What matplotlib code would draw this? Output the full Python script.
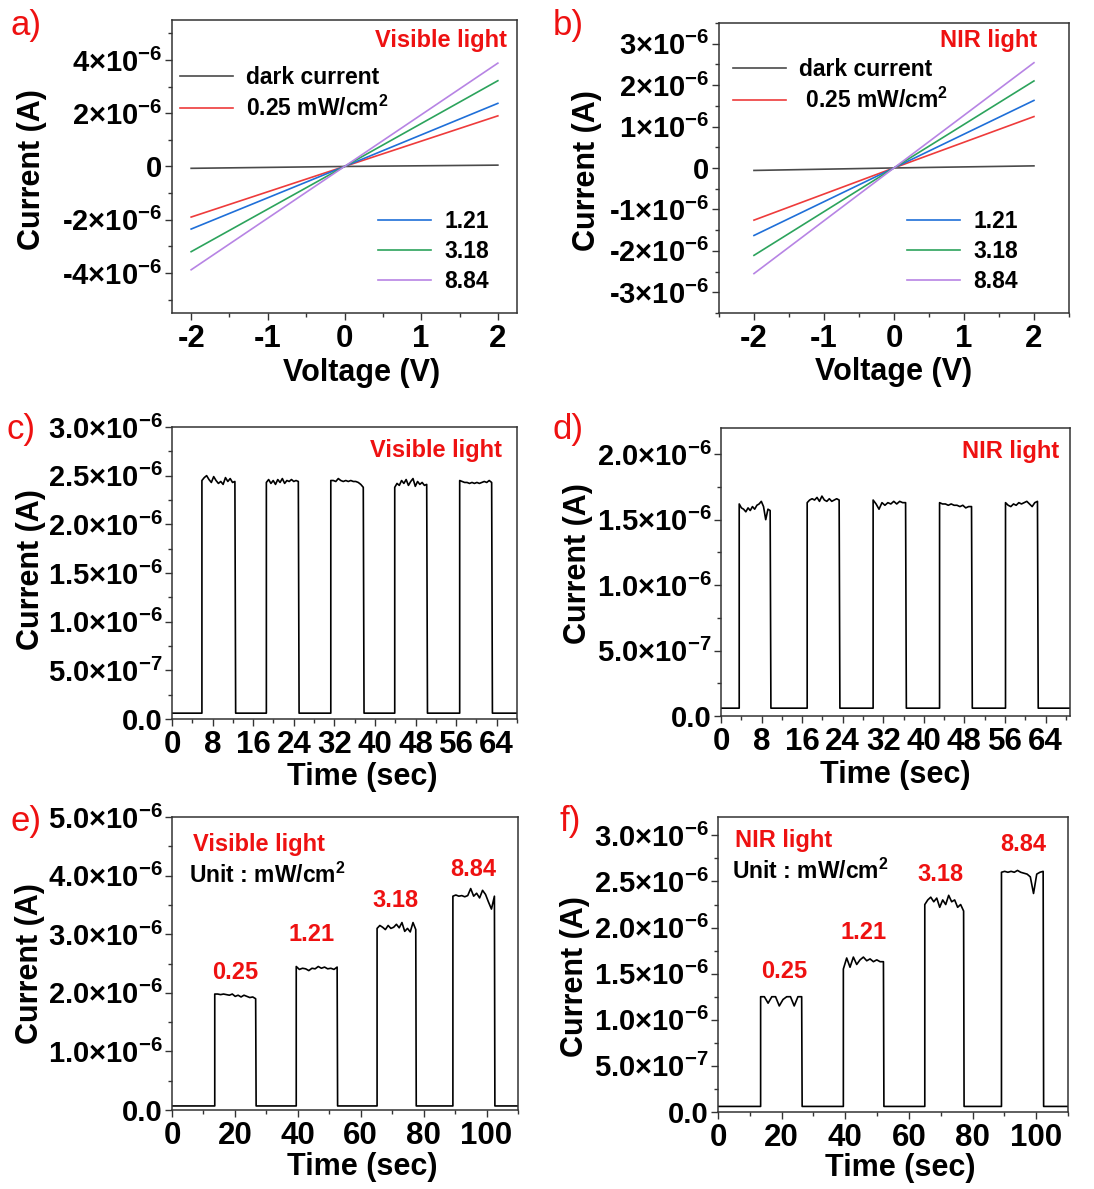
import numpy as np
import matplotlib
matplotlib.use('Agg')
import matplotlib.pyplot as plt
from matplotlib.ticker import MultipleLocator

plt.rcParams['font.family'] = ['Liberation Sans', 'DejaVu Sans']
plt.rcParams['font.weight'] = 'bold'
plt.rcParams['mathtext.fontset'] = 'custom'
plt.rcParams['mathtext.rm'] = 'Liberation Sans:bold'
plt.rcParams['mathtext.it'] = 'Liberation Sans:bold'
plt.rcParams['mathtext.bf'] = 'Liberation Sans:bold'
plt.rcParams['mathtext.default'] = 'rm'

# ---- I-V data (A) ----
voltage = [-2, 0, 2]
iv_labels = ['dark current', '0.25 mW/cm$^2$', '1.21', '3.18', '8.84']
iv_colors = ['#4a4a4a', '#ee3b3b', '#1f6fd8', '#2ca35c', '#b784e4']
iv_vis = [[-0.07e-6, 0, 0.05e-6],
          [-1.90e-6, 0, 1.90e-6],
          [-2.35e-6, 0, 2.37e-6],
          [-3.20e-6, 0, 3.22e-6],
          [-3.88e-6, 0, 3.88e-6]]
iv_nir = [[-0.06e-6, 0, 0.05e-6],
          [-1.26e-6, 0, 1.24e-6],
          [-1.63e-6, 0, 1.63e-6],
          [-2.11e-6, 0, 2.10e-6],
          [-2.55e-6, 0, 2.54e-6]]

# ---- on/off data (units of 1e-6 A) ----
c_on = [5.9, 18.6, 31.3, 43.9, 56.7]
c_off = [12.4, 24.9, 37.7, 50.2, 63.0]
c_tops = [[2.45, 2.48, 2.50, 2.46, 2.43, 2.49, 2.45, 2.42, 2.44, 2.41, 2.48, 2.44, 2.47, 2.43, 2.44],
          [2.43, 2.46, 2.42, 2.45, 2.41, 2.46, 2.43, 2.47, 2.42, 2.45, 2.44, 2.46, 2.44, 2.45, 2.44],
          [2.45, 2.45, 2.44, 2.47, 2.45, 2.44, 2.45, 2.44, 2.45, 2.44, 2.44, 2.43, 2.41, 2.38],
          [2.38, 2.42, 2.40, 2.45, 2.42, 2.46, 2.40, 2.44, 2.47, 2.39, 2.44, 2.41, 2.43, 2.40, 2.41],
          [2.45, 2.44, 2.43, 2.43, 2.42, 2.43, 2.42, 2.43, 2.42, 2.43, 2.44, 2.43, 2.45, 2.43]]
c_base = 0.06

d_on = [3.6, 17.0, 30.0, 43.1, 56.1]
d_off = [9.7, 23.3, 36.4, 49.4, 62.4]
d_tops = [[1.62, 1.59, 1.58, 1.56, 1.59, 1.57, 1.60, 1.58, 1.61, 1.62, 1.64, 1.60, 1.50, 1.58, 1.57],
          [1.63, 1.65, 1.66, 1.65, 1.67, 1.64, 1.68, 1.65, 1.64, 1.66, 1.64, 1.65, 1.66, 1.65],
          [1.65, 1.62, 1.58, 1.63, 1.61, 1.63, 1.62, 1.64, 1.62, 1.64, 1.63, 1.63],
          [1.63, 1.62, 1.62, 1.61, 1.62, 1.61, 1.61, 1.60, 1.61, 1.59, 1.60, 1.60],
          [1.63, 1.61, 1.60, 1.62, 1.61, 1.63, 1.62, 1.63, 1.64, 1.62, 1.60, 1.63, 1.64]]
d_base = 0.06

e_on = [13.6, 39.5, 65.2, 89.3]
e_off = [26.6, 52.5, 77.5, 102.5]
e_tops = [[1.98, 1.98, 1.97, 1.98, 1.97, 1.96, 1.98, 1.94, 1.96, 1.93, 1.96, 1.94, 1.92, 1.93, 1.90],
          [2.45, 2.40, 2.42, 2.41, 2.38, 2.42, 2.41, 2.45, 2.42, 2.44, 2.41, 2.42, 2.40, 2.44],
          [3.10, 3.15, 3.12, 3.08, 3.15, 3.10, 3.12, 3.17, 3.11, 3.20, 3.05, 3.10, 3.04, 3.20, 3.08],
          [3.65, 3.67, 3.65, 3.66, 3.64, 3.66, 3.78, 3.65, 3.70, 3.62, 3.75, 3.68, 3.55, 3.43, 3.65]]
e_base = 0.07

f_on = [13.4, 39.4, 65.0, 89.1]
f_off = [26.3, 52.0, 77.2, 102.2]
f_tops = [[1.25, 1.25, 1.18, 1.25, 1.25, 1.15, 1.22, 1.25, 1.25, 1.15, 1.25, 1.25],
          [1.55, 1.67, 1.57, 1.68, 1.60, 1.65, 1.68, 1.64, 1.66, 1.63, 1.65, 1.63, 1.63],
          [2.25, 2.30, 2.33, 2.28, 2.32, 2.22, 2.30, 2.25, 2.35, 2.28, 2.30, 2.22, 2.25, 2.18],
          [2.60, 2.61, 2.60, 2.61, 2.60, 2.62, 2.60, 2.59, 2.58, 2.55, 2.37, 2.58, 2.60, 2.61]]
f_base = 0.06

power_labels = ['0.25', '1.21', '3.18', '8.84']
e_label_pos = [(20, 2.35e-6), (44.3, 2.99e-6), (70.9, 3.58e-6), (95.9, 4.10e-6)]
f_label_pos = [(20.9, 1.52e-6), (45.9, 1.95e-6), (70, 2.58e-6), (96, 2.90e-6)]

# tick labels
a_yticks = [-4e-6, -2e-6, 0, 2e-6, 4e-6]
a_ylabels = ['-4×10$^{-6}$', '-2×10$^{-6}$', '0', '2×10$^{-6}$', '4×10$^{-6}$']
b_yticks = [-3e-6, -2e-6, -1e-6, 0, 1e-6, 2e-6, 3e-6]
b_ylabels = ['-3×10$^{-6}$', '-2×10$^{-6}$', '-1×10$^{-6}$', '0',
             '1×10$^{-6}$', '2×10$^{-6}$', '3×10$^{-6}$']
c_yticks = [0, 0.5e-6, 1.0e-6, 1.5e-6, 2.0e-6, 2.5e-6, 3.0e-6]
c_ylabels = ['0.0', '5.0×10$^{-7}$', '1.0×10$^{-6}$', '1.5×10$^{-6}$',
             '2.0×10$^{-6}$', '2.5×10$^{-6}$', '3.0×10$^{-6}$']
d_yticks = c_yticks[:5]
d_ylabels = c_ylabels[:5]
e_yticks = [0, 1e-6, 2e-6, 3e-6, 4e-6, 5e-6]
e_ylabels = ['0.0', '1.0×10$^{-6}$', '2.0×10$^{-6}$', '3.0×10$^{-6}$',
             '4.0×10$^{-6}$', '5.0×10$^{-6}$']
f_yticks = c_yticks
f_ylabels = c_ylabels


def pulse_trace(on, off, tops, base, t_end):
    t = [0]
    y = [base]
    for t_on, t_off, top in zip(on, off, tops):
        t += [t_on]
        y += [base]
        t += list(np.linspace(t_on, t_off, len(top)))
        y += top
        t += [t_off + 0.15]
        y += [base]
    t += [t_end]
    y += [base]
    return np.array(t), np.array(y) * 1e-6


def style_axes(ax, xfs=22.5, yfs=21):
    for s in ax.spines.values():
        s.set_color('#333333')
        s.set_linewidth(1.1)
    ax.tick_params(which='both', direction='out', top=False, right=False,
                   width=1, colors='#333333', labelcolor='black')
    ax.tick_params(which='major', length=5)
    ax.tick_params(which='minor', length=3)
    ax.tick_params(axis='x', labelsize=xfs, pad=3)
    ax.tick_params(axis='y', labelsize=yfs, pad=2)


def set_labels(ax, xl, yl, xpos, ypos):
    ax.set_xlabel(xl, fontsize=22, fontweight='bold')
    ax.set_ylabel(yl, fontsize=22, fontweight='bold')
    ax.xaxis.set_label_coords(*xpos)
    ax.yaxis.set_label_coords(*ypos)
    ax.xaxis.label.set_verticalalignment('center')
    ax.yaxis.label.set_verticalalignment('center')


fig = plt.figure(figsize=(10.94, 11.89), dpi=100)

ax_a = fig.add_axes([0.1572, 0.7368, 0.3154, 0.2464])
ax_b = fig.add_axes([0.6572, 0.7368, 0.3199, 0.2439])
ax_c = fig.add_axes([0.1572, 0.3953, 0.3154, 0.2456])
ax_d = fig.add_axes([0.6590, 0.3978, 0.3190, 0.2422])
ax_e = fig.add_axes([0.1572, 0.0664, 0.3163, 0.2464])
ax_f = fig.add_axes([0.6563, 0.0648, 0.3199, 0.2481])

# ---- I-V panels ----
for ax, data, title, xlim, ylim, yt, yl, leg1, leg2, tpos in [
        (ax_a, iv_vis, 'Visible light', 2.25, 5.5e-6, a_yticks, a_ylabels,
         (0.023, 0.843), (0.597, 0.352), (0.78, 0.93)),
        (ax_b, iv_nir, 'NIR light', 2.5, 3.5e-6, b_yticks, b_ylabels,
         (0.04, 0.879), (0.537, 0.355), (0.77, 0.94))]:
    lines = []
    for i, (vals, col) in enumerate(zip(data, iv_colors)):
        lab = iv_labels[i]
        if ax is ax_b and i == 1:
            lab = ' ' + lab
        ln, = ax.plot(voltage, vals, color=col, lw=1.2, label=lab)
        lines.append(ln)
    ax.set_xlim(-xlim, xlim)
    ax.set_ylim(-ylim, ylim)
    ax.set_xticks([-2, -1, 0, 1, 2])
    ax.set_xticklabels(['-2', '-1', '0', '1', '2'])
    ax.set_yticks(yt)
    ax.set_yticklabels(yl)
    ax.xaxis.set_minor_locator(MultipleLocator(0.5))
    ax.yaxis.set_minor_locator(MultipleLocator(1e-6 if ax is ax_a else 0.5e-6))
    style_axes(ax)
    l1 = ax.legend(lines[:2], [l.get_label() for l in lines[:2]], loc='upper left',
                   bbox_to_anchor=leg1, frameon=False, fontsize=16.5, borderpad=0,
                   borderaxespad=0, handlelength=2.3, handletextpad=0.6, labelspacing=0.3)
    ax.add_artist(l1)
    ax.legend(lines[2:], [l.get_label() for l in lines[2:]], loc='upper left',
              bbox_to_anchor=leg2, frameon=False, fontsize=16.5, borderpad=0,
              borderaxespad=0, handlelength=2.3, handletextpad=0.6, labelspacing=0.3)
    ax.text(tpos[0], tpos[1], title, color='#ee1111', fontsize=17, fontweight='bold',
            ha='center', va='center', transform=ax.transAxes)

set_labels(ax_a, 'Voltage (V)', 'Current (A)', (0.55, -0.205), (-0.406, 0.49))
set_labels(ax_b, 'Voltage (V)', 'Current (A)', (0.50, -0.205), (-0.377, 0.49))

# ---- repeated on/off panels ----
for ax, on, off, tops, base, xmax, ymax, yt, yl, title, tpos in [
        (ax_c, c_on, c_off, c_tops, c_base, 68, 3.0e-6, c_yticks, c_ylabels,
         'Visible light', (0.765, 0.92)),
        (ax_d, d_on, d_off, d_tops, d_base, 68.8, 2.2e-6, d_yticks, d_ylabels,
         'NIR light', (0.83, 0.917))]:
    t, y = pulse_trace(on, off, tops, base, xmax)
    ax.plot(t, y, color='black', lw=1.2)
    ax.set_xlim(0, xmax)
    ax.set_ylim(0, ymax)
    ax.set_xticks(np.arange(0, 65, 8))
    ax.xaxis.set_minor_locator(MultipleLocator(4))
    ax.set_yticks(yt)
    ax.set_yticklabels(yl)
    ax.yaxis.set_minor_locator(MultipleLocator(0.25e-6))
    style_axes(ax)
    ax.text(tpos[0], tpos[1], title, color='#ee1111', fontsize=17, fontweight='bold',
            ha='center', va='center', transform=ax.transAxes)

set_labels(ax_c, 'Time (sec)', 'Current (A)', (0.55, -0.20), (-0.41, 0.51))
set_labels(ax_d, 'Time (sec)', 'Current (A)', (0.50, -0.205), (-0.41, 0.53))

# ---- power dependent panels ----
for ax, on, off, tops, base, ymax, yt, yl, minor, title, tpos, upos, lpos in [
        (ax_e, e_on, e_off, e_tops, e_base, 5.0e-6, e_yticks, e_ylabels, 0.5e-6,
         'Visible light', (0.06, 0.905), (0.05, 0.80), e_label_pos),
        (ax_f, f_on, f_off, f_tops, f_base, 3.2e-6, f_yticks, f_ylabels, 0.25e-6,
         'NIR light', (0.05, 0.92), (0.04, 0.817), f_label_pos)]:
    t, y = pulse_trace(on, off, tops, base, 110)
    ax.plot(t, y, color='black', lw=1.2)
    ax.set_xlim(0, 110)
    ax.set_ylim(0, ymax)
    ax.set_xticks([0, 20, 40, 60, 80, 100])
    ax.xaxis.set_minor_locator(MultipleLocator(10))
    ax.set_yticks(yt)
    ax.set_yticklabels(yl)
    ax.yaxis.set_minor_locator(MultipleLocator(minor))
    style_axes(ax)
    ax.text(tpos[0], tpos[1], title, color='#ee1111', fontsize=17, fontweight='bold',
            ha='left', va='center', transform=ax.transAxes)
    ax.text(upos[0], upos[1], 'Unit : mW/cm$^2$', color='black', fontsize=16.5,
            fontweight='bold', ha='left', va='center', transform=ax.transAxes)
    for lab, (px, py) in zip(power_labels, lpos):
        ax.text(px, py, lab, color='#ee1111', fontsize=17, fontweight='bold',
                ha='center', va='center')

set_labels(ax_e, 'Time (sec)', 'Current (A)', (0.55, -0.195), (-0.41, 0.50))
set_labels(ax_f, 'Time (sec)', 'Current (A)', (0.52, -0.19), (-0.41, 0.46))

# ---- panel letters ----
for letter, px, py in [('a)', 10, 25), ('b)', 553, 25), ('c)', 6, 429),
                       ('d)', 553, 430), ('e)', 10, 822), ('f)', 560, 821)]:
    fig.text(px / 1094, 1 - py / 1189, letter, color='#ee1111', fontsize=25,
             fontweight='normal', ha='left', va='center')

fig.savefig('out.png', dpi=100)
